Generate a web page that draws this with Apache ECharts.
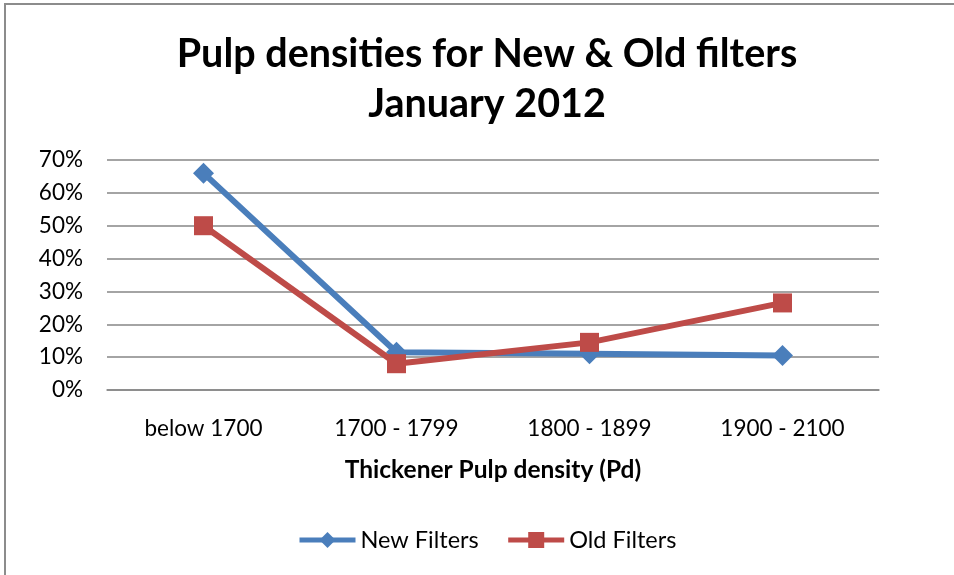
<!DOCTYPE html>
<html>
<head>
<meta charset="utf-8">
<script src="https://cdn.jsdelivr.net/npm/echarts@6/dist/echarts.min.js"></script>
<style>
  html, body { margin: 0; padding: 0; background: #fff; }
  #chart { width: 954px; height: 575px; }
</style>
</head>
<body>
<div id="chart"></div>
<script>
// Density bands on the x axis
const categories = ['below 1700', '1700 - 1799', '1800 - 1899', '1900 - 2100'];
// Share of samples per band (%)
const newFilters = [66, 11.5, 11, 10.5];
const oldFilters = [50, 8, 14.5, 26.5];
const seriesNames = ['New Filters', 'Old Filters'];
const titleLines = ['Pulp densities for New & Old filters', 'January 2012'];
const xAxisTitle = 'Thickener Pulp density (Pd)';

const FONT = 'Lato, "Open Sans", sans-serif';
const BLUE = '#4a7ebb';
const RED = '#be4b48';
const chart = echarts.init(document.getElementById('chart'), null, { renderer: 'canvas' });

chart.setOption({
  backgroundColor: '#ffffff',
  animation: false,
  graphic: [{
    type: 'rect',
    shape: { x: 5, y: 4, width: 1000, height: 700 },
    style: { fill: 'none', stroke: '#8c8c8c', lineWidth: 2 },
    silent: true
  }],
  title: {
    text: titleLines.join('\n'),
    left: 482,
    textAlign: 'center',
    top: 24,
    textStyle: {
      fontFamily: FONT, fontWeight: 'bold', fontSize: 39.5,
      color: '#000', lineHeight: 50
    }
  },
  legend: {
    bottom: 18,
    left: 292,
    itemWidth: 56,
    itemHeight: 20,
    itemGap: 27,
    textStyle: { fontFamily: FONT, fontSize: 23.5, color: '#000' },
    data: [
      { name: seriesNames[0], lineStyle: { width: 5 } },
      { name: seriesNames[1], lineStyle: { width: 5 } }
    ]
  },
  grid: { left: 107, right: 75, top: 160, bottom: 185, containLabel: false },
  xAxis: {
    type: 'category',
    data: categories,
    boundaryGap: true,
    name: xAxisTitle,
    nameLocation: 'middle',
    nameGap: 68,
    nameTextStyle: { fontFamily: FONT, fontWeight: 'bold', fontSize: 24.5, color: '#000' },
    axisLine: { lineStyle: { color: '#868686', width: 1.5 } },
    axisTick: { show: false },
    axisLabel: { fontFamily: FONT, fontSize: 22.5, color: '#000', margin: 27 }
  },
  yAxis: {
    type: 'value',
    min: 0, max: 70, interval: 10,
    axisLine: { show: false },
    axisTick: { show: false },
    axisLabel: { fontFamily: FONT, fontSize: 22.5, color: '#000', margin: 24, formatter: '{value}%' },
    splitLine: { lineStyle: { color: '#868686', width: 1.5 } }
  },
  series: [
    {
      name: seriesNames[0], type: 'line', data: newFilters,
      symbol: 'diamond', symbolSize: 21,
      lineStyle: { color: BLUE, width: 6 },
      itemStyle: { color: BLUE },
      z: 3
    },
    {
      name: seriesNames[1], type: 'line', data: oldFilters,
      symbol: 'rect', symbolSize: 19,
      lineStyle: { color: RED, width: 6 },
      itemStyle: { color: RED },
      z: 4
    }
  ]
});
</script>
</body>
</html>
